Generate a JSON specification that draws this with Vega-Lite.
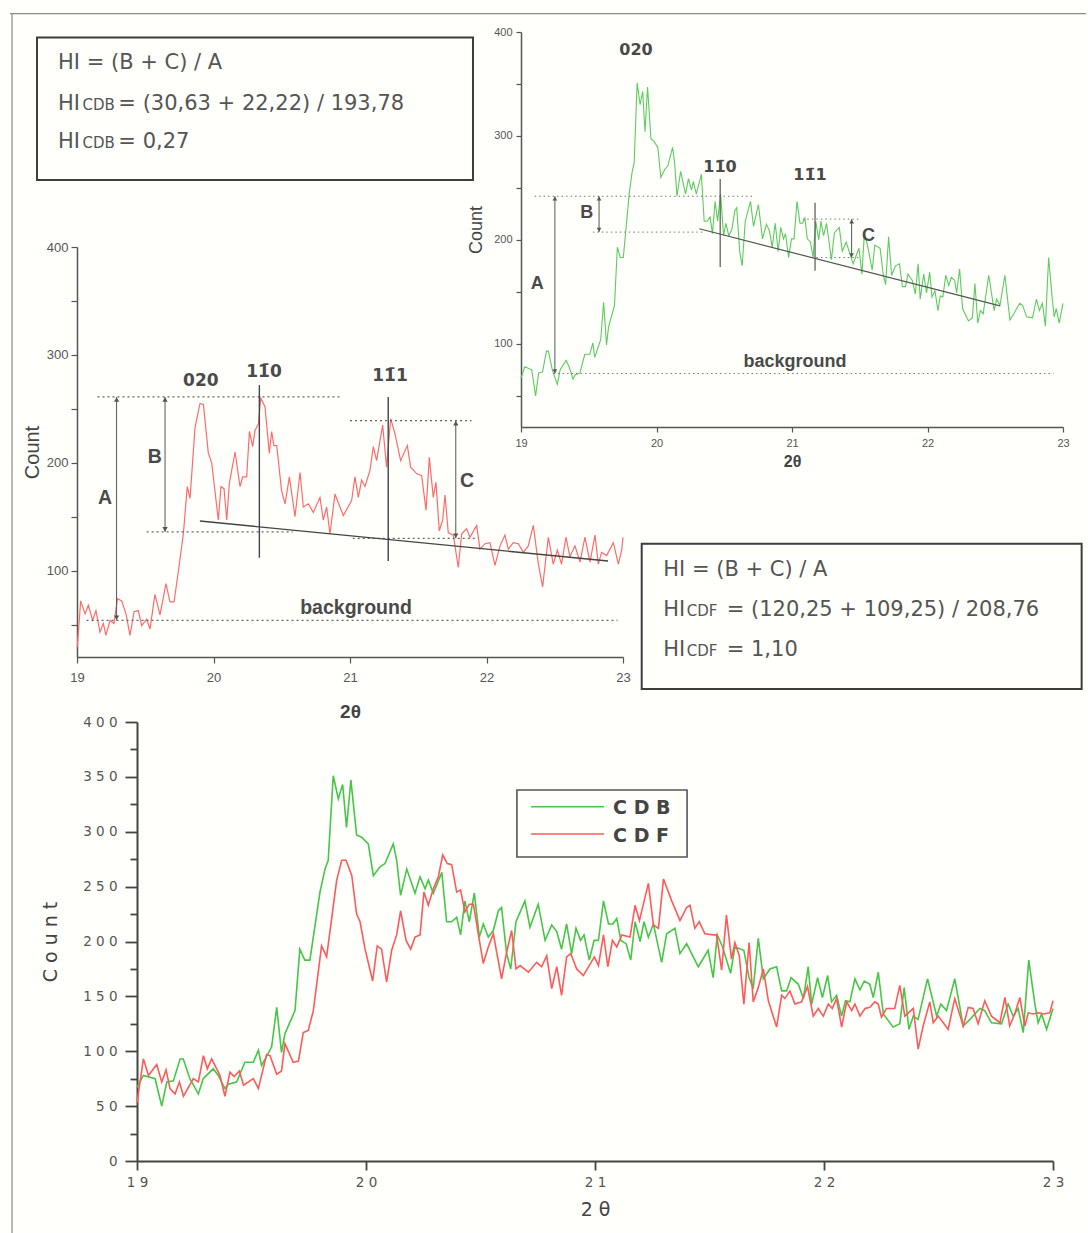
{
"$schema": "https://vega.github.io/schema/vega-lite/v6.json",
"width": 1088, "height": 1233, "padding": 0, "autosize": {"type": "none"},
"background": "#fffffc",
"config": {"view": {"stroke": null}, "axis": {"grid": false}},
"datasets": {
"cdb": [{"x":19.0,"y":67},{"x":19.028,"y":78},{"x":19.079,"y":75},{"x":19.108,"y":50},{"x":19.13,"y":72},{"x":19.159,"y":73},{"x":19.188,"y":93},{"x":19.202,"y":93},{"x":19.231,"y":75},{"x":19.268,"y":61},{"x":19.289,"y":75},{"x":19.333,"y":84},{"x":19.355,"y":78},{"x":19.384,"y":66},{"x":19.398,"y":70},{"x":19.435,"y":72},{"x":19.471,"y":90},{"x":19.508,"y":90},{"x":19.53,"y":101},{"x":19.544,"y":87},{"x":19.588,"y":104},{"x":19.61,"y":140},{"x":19.631,"y":99},{"x":19.646,"y":116},{"x":19.69,"y":137},{"x":19.711,"y":193},{"x":19.733,"y":183},{"x":19.755,"y":183},{"x":19.799,"y":245},{"x":19.821,"y":266},{"x":19.835,"y":274},{"x":19.857,"y":351},{"x":19.879,"y":330},{"x":19.898,"y":343},{"x":19.915,"y":304},{"x":19.934,"y":347},{"x":19.959,"y":297},{"x":19.981,"y":295},{"x":20.01,"y":289},{"x":20.032,"y":260},{"x":20.061,"y":268},{"x":20.083,"y":271},{"x":20.119,"y":289},{"x":20.134,"y":274},{"x":20.151,"y":242},{"x":20.178,"y":266},{"x":20.214,"y":244},{"x":20.236,"y":259},{"x":20.258,"y":248},{"x":20.272,"y":256},{"x":20.294,"y":244},{"x":20.331,"y":263},{"x":20.352,"y":218},{"x":20.374,"y":218},{"x":20.396,"y":222},{"x":20.413,"y":206},{"x":20.432,"y":237},{"x":20.451,"y":218},{"x":20.473,"y":244},{"x":20.495,"y":204},{"x":20.512,"y":216},{"x":20.534,"y":204},{"x":20.556,"y":210},{"x":20.578,"y":228},{"x":20.592,"y":231},{"x":20.614,"y":189},{"x":20.632,"y":175},{"x":20.655,"y":218},{"x":20.694,"y":237},{"x":20.716,"y":213},{"x":20.752,"y":234},{"x":20.782,"y":201},{"x":20.811,"y":215},{"x":20.833,"y":209},{"x":20.854,"y":193},{"x":20.876,"y":216},{"x":20.898,"y":189},{"x":20.917,"y":212},{"x":20.937,"y":201},{"x":20.952,"y":206},{"x":20.975,"y":183},{"x":20.996,"y":201},{"x":21.015,"y":201},{"x":21.037,"y":237},{"x":21.059,"y":216},{"x":21.078,"y":216},{"x":21.095,"y":221},{"x":21.113,"y":201},{"x":21.136,"y":198},{"x":21.156,"y":183},{"x":21.175,"y":218},{"x":21.197,"y":200},{"x":21.214,"y":218},{"x":21.233,"y":204},{"x":21.255,"y":216},{"x":21.291,"y":181},{"x":21.313,"y":207},{"x":21.349,"y":212},{"x":21.371,"y":189},{"x":21.4,"y":198},{"x":21.451,"y":177},{"x":21.494,"y":192},{"x":21.516,"y":167},{"x":21.534,"y":206},{"x":21.557,"y":195},{"x":21.592,"y":171},{"x":21.611,"y":195},{"x":21.65,"y":192},{"x":21.673,"y":167},{"x":21.691,"y":157},{"x":21.713,"y":203},{"x":21.735,"y":166},{"x":21.764,"y":175},{"x":21.793,"y":177},{"x":21.815,"y":155},{"x":21.837,"y":155},{"x":21.856,"y":167},{"x":21.888,"y":161},{"x":21.91,"y":148},{"x":21.931,"y":177},{"x":21.946,"y":143},{"x":21.972,"y":167},{"x":21.993,"y":149},{"x":22.016,"y":169},{"x":22.033,"y":145},{"x":22.055,"y":151},{"x":22.077,"y":132},{"x":22.094,"y":146},{"x":22.113,"y":145},{"x":22.135,"y":166},{"x":22.157,"y":156},{"x":22.176,"y":164},{"x":22.2,"y":161},{"x":22.215,"y":149},{"x":22.237,"y":172},{"x":22.259,"y":134},{"x":22.302,"y":122},{"x":22.331,"y":125},{"x":22.35,"y":158},{"x":22.371,"y":120},{"x":22.39,"y":132},{"x":22.411,"y":129},{"x":22.452,"y":166},{"x":22.492,"y":132},{"x":22.51,"y":143},{"x":22.535,"y":137},{"x":22.571,"y":166},{"x":22.608,"y":123},{"x":22.637,"y":129},{"x":22.681,"y":139},{"x":22.702,"y":137},{"x":22.731,"y":126},{"x":22.775,"y":125},{"x":22.804,"y":143},{"x":22.826,"y":132},{"x":22.848,"y":139},{"x":22.87,"y":117},{"x":22.894,"y":183},{"x":22.921,"y":143},{"x":22.935,"y":126},{"x":22.95,"y":134},{"x":22.972,"y":120},{"x":23.0,"y":139}],
"cdf": [{"x":19.0,"y":53},{"x":19.028,"y":93},{"x":19.05,"y":78},{"x":19.086,"y":88},{"x":19.108,"y":72},{"x":19.127,"y":83},{"x":19.144,"y":66},{"x":19.166,"y":61},{"x":19.185,"y":72},{"x":19.203,"y":59},{"x":19.246,"y":75},{"x":19.268,"y":72},{"x":19.29,"y":96},{"x":19.307,"y":84},{"x":19.326,"y":93},{"x":19.362,"y":78},{"x":19.384,"y":59},{"x":19.406,"y":81},{"x":19.424,"y":77},{"x":19.447,"y":82},{"x":19.465,"y":69},{"x":19.508,"y":75},{"x":19.53,"y":66},{"x":19.566,"y":97},{"x":19.581,"y":96},{"x":19.61,"y":79},{"x":19.631,"y":82},{"x":19.646,"y":107},{"x":19.682,"y":90},{"x":19.705,"y":91},{"x":19.726,"y":117},{"x":19.748,"y":119},{"x":19.77,"y":137},{"x":19.806,"y":196},{"x":19.828,"y":186},{"x":19.872,"y":256},{"x":19.894,"y":274},{"x":19.913,"y":274},{"x":19.938,"y":260},{"x":19.959,"y":225},{"x":19.974,"y":218},{"x":19.996,"y":193},{"x":20.029,"y":164},{"x":20.049,"y":196},{"x":20.068,"y":193},{"x":20.09,"y":163},{"x":20.112,"y":192},{"x":20.134,"y":206},{"x":20.151,"y":228},{"x":20.175,"y":201},{"x":20.195,"y":193},{"x":20.214,"y":204},{"x":20.236,"y":206},{"x":20.253,"y":245},{"x":20.272,"y":233},{"x":20.294,"y":248},{"x":20.316,"y":259},{"x":20.335,"y":279},{"x":20.355,"y":271},{"x":20.374,"y":270},{"x":20.396,"y":245},{"x":20.413,"y":247},{"x":20.432,"y":227},{"x":20.451,"y":234},{"x":20.469,"y":234},{"x":20.491,"y":206},{"x":20.512,"y":180},{"x":20.534,"y":195},{"x":20.556,"y":207},{"x":20.592,"y":166},{"x":20.614,"y":190},{"x":20.636,"y":210},{"x":20.655,"y":175},{"x":20.673,"y":178},{"x":20.709,"y":172},{"x":20.745,"y":181},{"x":20.767,"y":177},{"x":20.789,"y":187},{"x":20.811,"y":157},{"x":20.833,"y":177},{"x":20.854,"y":151},{"x":20.876,"y":186},{"x":20.894,"y":189},{"x":20.92,"y":175},{"x":20.949,"y":169},{"x":20.975,"y":178},{"x":20.997,"y":186},{"x":21.015,"y":178},{"x":21.037,"y":206},{"x":21.056,"y":177},{"x":21.076,"y":201},{"x":21.095,"y":195},{"x":21.117,"y":206},{"x":21.153,"y":204},{"x":21.175,"y":233},{"x":21.194,"y":219},{"x":21.233,"y":253},{"x":21.255,"y":215},{"x":21.277,"y":212},{"x":21.299,"y":257},{"x":21.335,"y":237},{"x":21.371,"y":219},{"x":21.4,"y":231},{"x":21.415,"y":233},{"x":21.436,"y":212},{"x":21.455,"y":218},{"x":21.48,"y":207},{"x":21.516,"y":206},{"x":21.531,"y":206},{"x":21.553,"y":174},{"x":21.574,"y":224},{"x":21.596,"y":184},{"x":21.611,"y":199},{"x":21.63,"y":187},{"x":21.65,"y":143},{"x":21.673,"y":199},{"x":21.691,"y":145},{"x":21.713,"y":158},{"x":21.735,"y":175},{"x":21.757,"y":146},{"x":21.793,"y":122},{"x":21.815,"y":151},{"x":21.829,"y":148},{"x":21.851,"y":155},{"x":21.873,"y":143},{"x":21.902,"y":145},{"x":21.928,"y":159},{"x":21.953,"y":132},{"x":21.975,"y":139},{"x":21.997,"y":132},{"x":22.019,"y":143},{"x":22.036,"y":139},{"x":22.055,"y":148},{"x":22.077,"y":122},{"x":22.099,"y":145},{"x":22.121,"y":137},{"x":22.135,"y":143},{"x":22.157,"y":132},{"x":22.179,"y":139},{"x":22.2,"y":140},{"x":22.222,"y":145},{"x":22.237,"y":143},{"x":22.251,"y":131},{"x":22.273,"y":139},{"x":22.309,"y":139},{"x":22.331,"y":160},{"x":22.353,"y":132},{"x":22.39,"y":139},{"x":22.411,"y":102},{"x":22.433,"y":123},{"x":22.462,"y":145},{"x":22.477,"y":126},{"x":22.499,"y":132},{"x":22.542,"y":120},{"x":22.571,"y":148},{"x":22.608,"y":123},{"x":22.63,"y":140},{"x":22.651,"y":139},{"x":22.673,"y":125},{"x":22.702,"y":146},{"x":22.731,"y":132},{"x":22.768,"y":126},{"x":22.79,"y":149},{"x":22.811,"y":123},{"x":22.833,"y":134},{"x":22.855,"y":149},{"x":22.877,"y":123},{"x":22.892,"y":135},{"x":22.913,"y":134},{"x":22.935,"y":135},{"x":22.957,"y":134},{"x":22.986,"y":135},{"x":23.0,"y":146}],
"cdfA": [{"x":19.002,"y":29},{"x":19.027,"y":72},{"x":19.059,"y":60},{"x":19.083,"y":68},{"x":19.115,"y":54},{"x":19.139,"y":63},{"x":19.168,"y":43},{"x":19.193,"y":51},{"x":19.212,"y":40},{"x":19.242,"y":54},{"x":19.271,"y":51},{"x":19.296,"y":74},{"x":19.327,"y":72},{"x":19.359,"y":60},{"x":19.388,"y":40},{"x":19.418,"y":62},{"x":19.449,"y":63},{"x":19.474,"y":49},{"x":19.51,"y":55},{"x":19.535,"y":46},{"x":19.571,"y":78},{"x":19.608,"y":59},{"x":19.652,"y":88},{"x":19.681,"y":71},{"x":19.711,"y":71},{"x":19.742,"y":99},{"x":19.779,"y":134},{"x":19.808,"y":178},{"x":19.828,"y":167},{"x":19.865,"y":233},{"x":19.901,"y":255},{"x":19.926,"y":254},{"x":19.962,"y":209},{"x":19.987,"y":200},{"x":20.035,"y":147},{"x":20.055,"y":178},{"x":20.077,"y":176},{"x":20.097,"y":147},{"x":20.116,"y":181},{"x":20.158,"y":210},{"x":20.194,"y":178},{"x":20.214,"y":187},{"x":20.243,"y":187},{"x":20.263,"y":229},{"x":20.287,"y":215},{"x":20.304,"y":230},{"x":20.329,"y":236},{"x":20.346,"y":260},{"x":20.377,"y":252},{"x":20.409,"y":209},{"x":20.426,"y":229},{"x":20.443,"y":216},{"x":20.463,"y":216},{"x":20.499,"y":174},{"x":20.524,"y":162},{"x":20.556,"y":187},{"x":20.597,"y":150},{"x":20.634,"y":191},{"x":20.658,"y":159},{"x":20.695,"y":162},{"x":20.731,"y":154},{"x":20.78,"y":168},{"x":20.804,"y":147},{"x":20.829,"y":159},{"x":20.853,"y":134},{"x":20.89,"y":171},{"x":20.951,"y":151},{"x":21.012,"y":165},{"x":21.036,"y":187},{"x":21.061,"y":168},{"x":21.085,"y":184},{"x":21.11,"y":178},{"x":21.146,"y":193},{"x":21.171,"y":215},{"x":21.195,"y":202},{"x":21.239,"y":235},{"x":21.268,"y":196},{"x":21.298,"y":241},{"x":21.329,"y":227},{"x":21.371,"y":202},{"x":21.42,"y":216},{"x":21.444,"y":196},{"x":21.488,"y":190},{"x":21.525,"y":188},{"x":21.557,"y":156},{"x":21.581,"y":205},{"x":21.61,"y":168},{"x":21.63,"y":182},{"x":21.654,"y":137},{"x":21.679,"y":147},{"x":21.696,"y":170},{"x":21.72,"y":135},{"x":21.757,"y":133},{"x":21.793,"y":103},{"x":21.818,"y":134},{"x":21.854,"y":139},{"x":21.879,"y":131},{"x":21.928,"y":142},{"x":21.952,"y":120},{"x":21.989,"y":125},{"x":22.025,"y":126},{"x":22.062,"y":105},{"x":22.099,"y":123},{"x":22.135,"y":133},{"x":22.16,"y":120},{"x":22.196,"y":126},{"x":22.233,"y":125},{"x":22.27,"y":117},{"x":22.306,"y":123},{"x":22.343,"y":142},{"x":22.38,"y":106},{"x":22.411,"y":85},{"x":22.453,"y":131},{"x":22.489,"y":106},{"x":22.519,"y":119},{"x":22.55,"y":106},{"x":22.582,"y":131},{"x":22.611,"y":113},{"x":22.648,"y":123},{"x":22.685,"y":108},{"x":22.721,"y":131},{"x":22.758,"y":108},{"x":22.795,"y":133},{"x":22.819,"y":106},{"x":22.843,"y":117},{"x":22.88,"y":114},{"x":22.929,"y":126},{"x":22.966,"y":106},{"x":22.99,"y":119},{"x":23.0,"y":131}],
"dotA": [{"x":19.15,"x2":20.94,"y":261},{"x":19.51,"x2":20.58,"y":136},{"x":19.07,"x2":22.96,"y":54},{"x":21.0,"x2":21.89,"y":239},{"x":21.02,"x2":21.93,"y":130}],
"solidA": [{"x":19.9,"y":146,"x2":22.89,"y2":109},{"x":20.336,"y":272,"x2":20.336,"y2":112},{"x":21.28,"y":261,"x2":21.28,"y2":109}],
"arrowA": [{"x":19.29,"y":54,"y2":261},{"x":19.645,"y":136,"y2":261},{"x":21.775,"y":130,"y2":239}],
"lettersA": [{"x":19.205,"y":167,"text":"A"},{"x":19.57,"y":205,"text":"B"},{"x":21.857,"y":183,"text":"C"},{"x":21.044,"y":65,"text":"background"}],
"peaksA": [{"x":19.907,"y":276,"text":"020"},{"x":20.37,"y":284,"text":"11\u03040"},{"x":21.293,"y":280,"text":"11\u03041"}],
"boxes": [{"x":18.707,"x2":21.901,"y":594.1,"y2":462.2},{"x":23.137,"x2":26.36,"y":124.9,"y2":-9.7}],
"frame": [{"x":18.509,"x2":26.392,"y":616.3,"y2":616.3},{"x":18.524,"x2":18.524,"y":616.3,"y2":-515.5}],
"boxText": [{"x":18.861,"y":565,"text":"HI = (B + C) / A"},{"x":18.861,"y":526.6,"text":"HI"},{"x":19.303,"y":526.6,"text":"= (30,63 + 22,22) / 193,78"},{"x":18.861,"y":491.6,"text":"HI"},{"x":19.303,"y":491.6,"text":"= 0,27"},{"x":23.295,"y":95.5,"text":"HI = (B + C) / A"},{"x":23.295,"y":58.3,"text":"HI"},{"x":23.76,"y":58.3,"text":"= (120,25 + 109,25) / 208,76"},{"x":23.295,"y":21.2,"text":"HI"},{"x":23.76,"y":21.2,"text":"= 1,10"}],
"boxSub": [{"x":19.04,"y":526.6,"text":"CDB"},{"x":19.04,"y":491.6,"text":"CDB"},{"x":23.467,"y":58.3,"text":"CDF"},{"x":23.467,"y":21.2,"text":"CDF"}],
"dotB": [{"x":19.1,"x2":20.71,"y":242},{"x":19.53,"x2":20.34,"y":207.5},{"x":19.24,"x2":22.93,"y":71.5},{"x":21.08,"x2":21.51,"y":220},{"x":21.18,"x2":21.49,"y":183}],
"solidB": [{"x":20.316,"y":210.7,"x2":22.535,"y2":136.6},{"x":20.47,"y":258.5,"x2":20.47,"y2":174},{"x":21.17,"y":235.7,"x2":21.17,"y2":170.3}],
"arrowB": [{"x":19.25,"y":71.5,"y2":242},{"x":19.576,"y":207.5,"y2":242},{"x":21.44,"y":183,"y2":220}],
"lettersB": [{"x":19.12,"y":158,"text":"A"},{"x":19.485,"y":226,"text":"B"},{"x":21.565,"y":203.7,"text":"C"},{"x":21.022,"y":82.4,"text":"background"}],
"peaksB": [{"x":19.849,"y":382.7,"text":"020"},{"x":20.469,"y":270.4,"text":"11\u03040"},{"x":21.133,"y":262.4,"text":"11\u03041"}],
"legendBox": [{"x":20.659,"x2":21.402,"y":338,"y2":277}],
"legendLines": [{"x":20.721,"x2":21.039,"y":322.8,"sample":"CDB"},{"x":20.721,"x2":21.039,"y":297.9,"sample":"CDF"}],
"legendText": [{"x":21.079,"y":322,"text":"C D B"},{"x":21.079,"y":296,"text":"C D F"}]
},
"resolve": {"scale": {"x": "independent", "y": "independent"}, "axis": {"x": "independent", "y": "independent"}},
"layer": [
{
"encoding": {
"x": {"field": "x", "type": "quantitative", "scale": {"domain": [19, 23], "range": [77, 623], "nice": false, "zero": false},
"axis": {"orient": "bottom", "offset": -576, "values": [19,19.5,20,20.5,21,21.5,22,22.5,23], "format": "d", "labelExpr": "datum.value % 1 === 0 ? datum.label : ''", "labelFont": "Liberation Sans", "labelFontSize": 13, "labelColor": "#555", "labelPadding": 8, "labelFlush": false, "labelOverlap": false, "tickSize": 6, "tickColor": "#555", "tickWidth": 1.2, "domainColor": "#555", "domainWidth": 1.5, "title": "2θ", "titleFont": "Liberation Sans", "titleFontSize": 19, "titleFontWeight": "bold", "titleColor": "#444", "titlePadding": 18}},
"y": {"field": "y", "type": "quantitative", "scale": {"domain": [20, 400], "range": [657, 247], "nice": false, "zero": false},
"axis": {"orient": "left", "offset": -77, "values": [50,100,150,200,250,300,350,400], "format": "d", "labelExpr": "datum.value % 100 === 0 ? datum.label : ''", "labelFont": "Liberation Sans", "labelFontSize": 13, "labelColor": "#555", "labelPadding": 3, "labelOverlap": false, "labelFlush": false, "tickSize": 6, "tickColor": "#555", "tickWidth": 1.2, "domainColor": "#555", "domainWidth": 1.5, "title": "Count", "titleFont": "Liberation Sans", "titleFontSize": 20, "titleFontWeight": "normal", "titleColor": "#444", "titlePadding": 4}}
},
"layer": [
{"data": {"name": "frame"}, "mark": {"type": "rule", "color": "#8a8a8a", "strokeWidth": 1.2}, "encoding": {"x2": {"field": "x2"}, "y2": {"field": "y2"}}},
{"data": {"name": "cdfA"}, "mark": {"type": "line", "color": "#ff6b6b", "strokeWidth": 1.2}},
{"data": {"name": "dotA"}, "mark": {"type": "rule", "color": "#666", "strokeWidth": 1.2, "strokeDash": [2, 3]}, "encoding": {"x2": {"field": "x2"}}},
{"data": {"name": "solidA"}, "mark": {"type": "rule", "color": "#444", "strokeWidth": 1.4}, "encoding": {"x2": {"field": "x2"}, "y2": {"field": "y2"}}},
{"data": {"name": "arrowA"}, "mark": {"type": "rule", "color": "#555", "strokeWidth": 1}, "encoding": {"y2": {"field": "y2"}}},
{"data": {"name": "arrowA"}, "mark": {"type": "point", "shape": "triangle-up", "filled": true, "opacity": 1, "size": 28, "color": "#555", "yOffset": 2.5}, "encoding": {"y": {"field": "y2", "type": "quantitative", "title": "Count"}}},
{"data": {"name": "arrowA"}, "mark": {"type": "point", "shape": "triangle-down", "filled": true, "opacity": 1, "size": 28, "color": "#555", "yOffset": -2.5}},
{"data": {"name": "lettersA"}, "mark": {"type": "text", "font": "Liberation Sans", "fontWeight": "bold", "fontSize": 19.5, "color": "#4a4a4a", "align": "center", "baseline": "middle"}, "encoding": {"text": {"field": "text"}}},
{"data": {"name": "peaksA"}, "mark": {"type": "text", "font": "DejaVu Sans", "fontWeight": "bold", "fontSize": 17, "color": "#4a4a4a", "align": "center", "baseline": "middle"}, "encoding": {"text": {"field": "text"}}},
{"data": {"name": "boxes"}, "mark": {"type": "rect", "fillOpacity": 0, "stroke": "#3d3d3d", "strokeWidth": 2}, "encoding": {"x2": {"field": "x2"}, "y2": {"field": "y2"}}},
{"data": {"name": "boxText"}, "mark": {"type": "text", "font": "DejaVu Sans", "fontSize": 21, "color": "#555", "align": "left", "baseline": "alphabetic"}, "encoding": {"text": {"field": "text"}}},
{"data": {"name": "boxSub"}, "mark": {"type": "text", "font": "DejaVu Sans", "fontSize": 15, "color": "#555", "align": "left", "baseline": "alphabetic"}, "encoding": {"text": {"field": "text"}}}
]
},
{
"encoding": {
"x": {"field": "x", "type": "quantitative", "scale": {"domain": [19, 23], "range": [521, 1063], "nice": false, "zero": false},
"axis": {"orient": "bottom", "offset": -806, "values": [19,19.5,20,20.5,21,21.5,22,22.5,23], "format": "d", "labelExpr": "datum.value % 1 === 0 ? datum.label : ''", "labelFont": "Liberation Sans", "labelFontSize": 11, "labelColor": "#555", "labelPadding": 5, "labelFlush": false, "labelOverlap": false, "tickSize": 5, "tickColor": "#555", "tickWidth": 1.2, "domainColor": "#555", "domainWidth": 1.5, "title": "2θ", "titleFont": "Liberation Sans", "titleFontSize": 16, "titleFontWeight": "bold", "titleColor": "#444", "titlePadding": 5}},
"y": {"field": "y", "type": "quantitative", "scale": {"domain": [20, 400], "range": [427, 32], "nice": false, "zero": false},
"axis": {"orient": "left", "offset": -521, "values": [50,100,150,200,250,300,350,400], "format": "d", "labelExpr": "datum.value % 100 === 0 ? datum.label : ''", "labelFont": "Liberation Sans", "labelFontSize": 11, "labelColor": "#555", "labelPadding": 4, "labelOverlap": false, "labelFlush": false, "tickSize": 5, "tickColor": "#555", "tickWidth": 1.2, "domainColor": "#555", "domainWidth": 1.5, "title": "Count", "titleFont": "Liberation Sans", "titleFontSize": 18, "titleFontWeight": "normal", "titleColor": "#444", "titlePadding": 8}}
},
"layer": [
{"data": {"name": "cdb"}, "mark": {"type": "line", "color": "#5ccc5c", "strokeWidth": 1.1}},
{"data": {"name": "dotB"}, "mark": {"type": "rule", "color": "#777", "strokeWidth": 1, "strokeDash": [1.5, 3]}, "encoding": {"x2": {"field": "x2"}}},
{"data": {"name": "solidB"}, "mark": {"type": "rule", "color": "#555", "strokeWidth": 1.2}, "encoding": {"x2": {"field": "x2"}, "y2": {"field": "y2"}}},
{"data": {"name": "arrowB"}, "mark": {"type": "rule", "color": "#555", "strokeWidth": 1}, "encoding": {"y2": {"field": "y2"}}},
{"data": {"name": "arrowB"}, "mark": {"type": "point", "shape": "triangle-up", "filled": true, "opacity": 1, "size": 22, "color": "#555", "yOffset": 2.3}, "encoding": {"y": {"field": "y2", "type": "quantitative", "title": "Count"}}},
{"data": {"name": "arrowB"}, "mark": {"type": "point", "shape": "triangle-down", "filled": true, "opacity": 1, "size": 22, "color": "#555", "yOffset": -2.3}},
{"data": {"name": "lettersB"}, "mark": {"type": "text", "font": "Liberation Sans", "fontWeight": "bold", "fontSize": 18, "color": "#4a4a4a", "align": "center", "baseline": "middle"}, "encoding": {"text": {"field": "text"}}},
{"data": {"name": "peaksB"}, "mark": {"type": "text", "font": "DejaVu Sans", "fontWeight": "bold", "fontSize": 16, "color": "#4a4a4a", "align": "center", "baseline": "middle"}, "encoding": {"text": {"field": "text"}}}
]
},
{
"encoding": {
"x": {"field": "x", "type": "quantitative", "scale": {"domain": [19, 23], "range": [137, 1053], "nice": false, "zero": false},
"axis": {"orient": "bottom", "offset": -72, "values": [19,19.5,20,20.5,21,21.5,22,22.5,23], "format": "d", "labelExpr": "datum.value % 1 === 0 ? join(split(datum.label, ''), ' ') : ''", "labelFont": "DejaVu Sans", "labelFontSize": 13.5, "labelColor": "#555", "labelPadding": 5, "labelFlush": false, "labelOverlap": false, "tickSize": {"condition": {"test": "datum.value % 1 === 0", "value": 9}, "value": 6}, "tickColor": "#444", "tickWidth": 1.8, "domainColor": "#444", "domainWidth": 2, "title": "2 θ", "titleFont": "DejaVu Sans", "titleFontSize": 19, "titleFontWeight": "normal", "titleColor": "#444", "titlePadding": 12}},
"y": {"field": "y", "type": "quantitative", "scale": {"domain": [0, 400], "range": [1161, 722], "nice": false, "zero": false},
"axis": {"orient": "left", "offset": -137, "values": [0,25,50,75,100,125,150,175,200,225,250,275,300,325,350,375,400], "format": "d", "labelExpr": "datum.value % 50 === 0 ? join(split(datum.label, ''), ' ') : ''", "labelFont": "DejaVu Sans", "labelFontSize": 13.5, "labelColor": "#555", "labelPadding": 8, "labelOverlap": false, "labelFlush": false, "tickSize": {"condition": {"test": "datum.value % 50 === 0", "value": 12}, "value": 7}, "tickColor": "#444", "tickWidth": 1.8, "domainColor": "#444", "domainWidth": 2, "title": "C o u n t", "titleFont": "DejaVu Sans", "titleFontSize": 19, "titleFontWeight": "normal", "titleColor": "#444", "titlePadding": 22}},
"color": {"field": "sample", "type": "nominal", "scale": {"domain": ["CDB", "CDF"], "range": ["#46c646", "#ff5a5a"]}, "legend": null}
},
"layer": [
{"data": {"name": "cdb"}, "mark": {"type": "line", "strokeWidth": 1.6}, "encoding": {"color": {"datum": "CDB", "type": "nominal", "legend": null}}},
{"data": {"name": "cdf"}, "mark": {"type": "line", "strokeWidth": 1.6}, "encoding": {"color": {"datum": "CDF", "type": "nominal", "legend": null}}},
{"data": {"name": "legendBox"}, "mark": {"type": "rect", "fill": "#fffffc", "stroke": "#555", "strokeWidth": 1.6}, "encoding": {"x2": {"field": "x2"}, "y2": {"field": "y2"}, "color": {"value": "#fffffc"}}},
{"data": {"name": "legendLines"}, "mark": {"type": "rule", "strokeWidth": 1.6}, "encoding": {"x2": {"field": "x2"}}},
{"data": {"name": "legendText"}, "mark": {"type": "text", "font": "DejaVu Sans", "fontWeight": "bold", "fontSize": 19, "color": "#444", "align": "left", "baseline": "middle"}, "encoding": {"text": {"field": "text"}, "color": {"value": "#444"}}}
]
}
]
}
